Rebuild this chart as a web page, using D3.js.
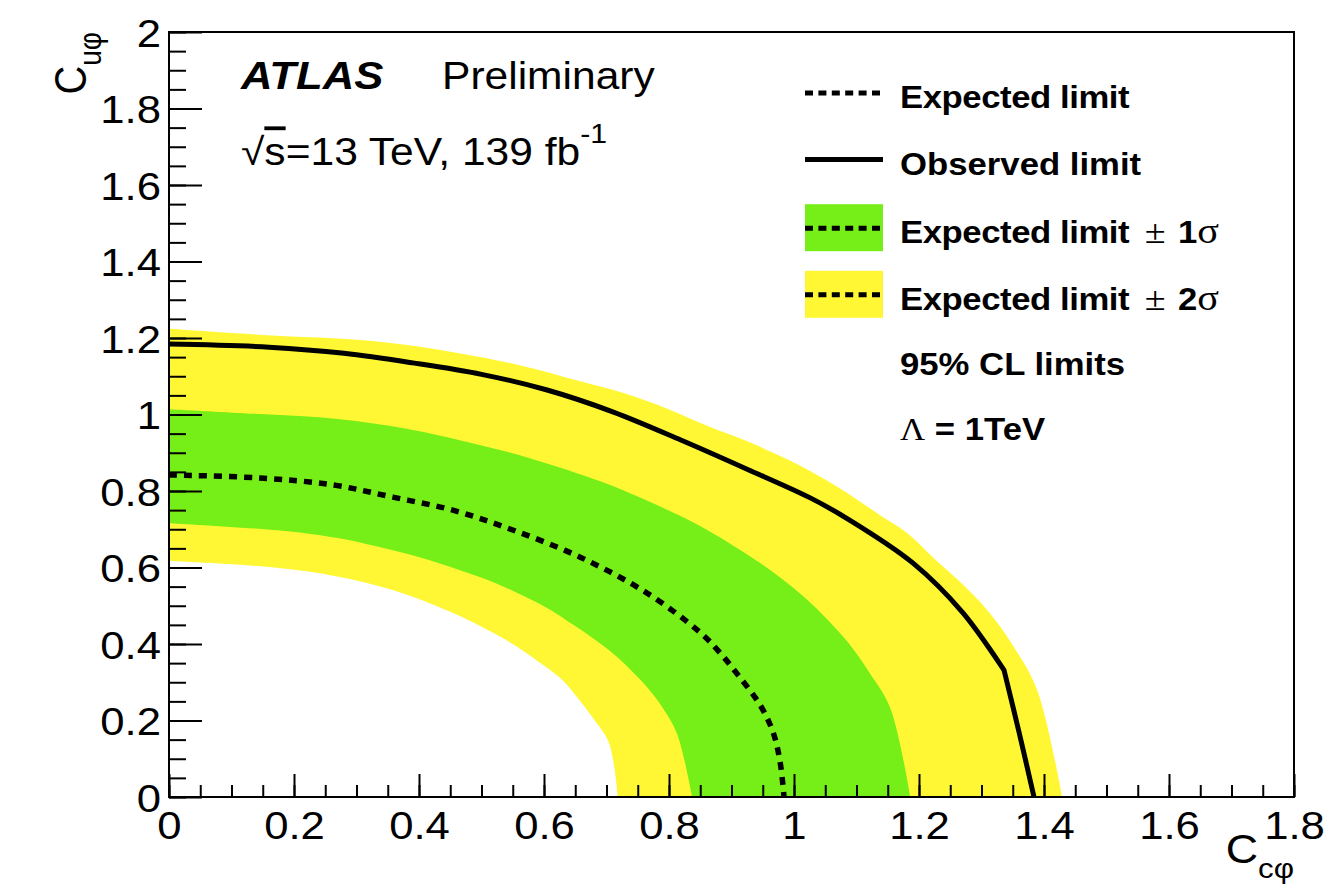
<!DOCTYPE html>
<html>
<head>
<meta charset="utf-8">
<script src="https://cdn.jsdelivr.net/npm/d3@7.9.0/dist/d3.min.js"></script>
<style>
  html, body { margin: 0; padding: 0; background: #fff; }
  svg { display: block; }
  text { font-family: "Liberation Sans", Arial, sans-serif; fill: #000; }
</style>
</head>
<body>
<svg id="chart" width="1332" height="893"></svg>
<script>
// contours in the (C_cphi, C_uphi) plane
const observed = [
  [0, 1.184], [0.16, 1.176], [0.28, 1.16], [0.39, 1.135], [0.5, 1.105],
  [0.605, 1.064], [0.71, 1.007], [0.818, 0.934], [0.925, 0.857], [1.026, 0.782],
  [1.085, 0.728], [1.19, 0.612], [1.27, 0.482], [1.336, 0.332],
];
const observedTail = [[1.336, 0.332], [1.36, 0.17], [1.384, 0]];
const expected = [
  [0, 0.842], [0.146, 0.834], [0.262, 0.816], [0.358, 0.784], [0.454, 0.75],
  [0.55, 0.698], [0.658, 0.627], [0.765, 0.533], [0.85, 0.43], [0.88, 0.38],
  [0.91, 0.32], [0.946, 0.24], [0.967, 0.167], [0.978, 0.089], [0.984, 0],
];
const plus1 = [
  [0, 1.014], [0.146, 1.001], [0.27, 0.988], [0.382, 0.962], [0.47, 0.931],
  [0.542, 0.902], [0.606, 0.871], [0.666, 0.839], [0.718, 0.808], [0.77, 0.771],
  [0.815, 0.737], [0.861, 0.698], [0.901, 0.659], [0.941, 0.617], [0.981, 0.57],
  [1.018, 0.52], [1.053, 0.465], [1.087, 0.403], [1.12, 0.327], [1.154, 0.233],
  [1.186, 0],
];
const minus1 = [
  [0, 0.716], [0.19, 0.695], [0.27, 0.677], [0.33, 0.656], [0.382, 0.635],
  [0.427, 0.614], [0.469, 0.591], [0.506, 0.57], [0.541, 0.546], [0.574, 0.52],
  [0.605, 0.494], [0.635, 0.463], [0.662, 0.434], [0.691, 0.4], [0.717, 0.366],
  [0.742, 0.327], [0.766, 0.285], [0.79, 0.233], [0.813, 0.165], [0.837, 0],
];
const plus2 = [
  [0, 1.224], [0.15, 1.208], [0.326, 1.192], [0.462, 1.161], [0.566, 1.127],
  [0.655, 1.088], [0.731, 1.054], [0.802, 1.012], [0.866, 0.967], [0.925, 0.93],
  [0.985, 0.886], [1.037, 0.842], [1.085, 0.795], [1.133, 0.742], [1.181, 0.69],
  [1.222, 0.627], [1.266, 0.562], [1.309, 0.489], [1.35, 0.397], [1.389, 0.28],
  [1.429, 0],
];
const minus2 = [
  [0, 0.617], [0.146, 0.603], [0.258, 0.58], [0.358, 0.541], [0.45, 0.484],
  [0.5, 0.445], [0.55, 0.4], [0.59, 0.355], [0.626, 0.311], [0.653, 0.261],
  [0.678, 0.207], [0.704, 0.141], [0.718, 0],
];

const xTicks = [0, 0.2, 0.4, 0.6, 0.8, 1, 1.2, 1.4, 1.6, 1.8];
const yTicks = [0, 0.2, 0.4, 0.6, 0.8, 1, 1.2, 1.4, 1.6, 1.8, 2];

const legendItems = [
  { kind: 'dash', label: 'Expected limit' },
  { kind: 'solid', label: 'Observed limit' },
  { kind: 'green', label: 'Expected limit', sig: '1' },
  { kind: 'yellow', label: 'Expected limit', sig: '2' },
];

const GREEN = '#76ee17';
const YELLOW = '#fff734';
const SX = 1.12; // the picture is stretched horizontally

const svg = d3.select('#chart');
const x = d3.scaleLinear().domain([0, 1.8]).range([169, 1294]);
const y = d3.scaleLinear().domain([0, 2]).range([797, 32]);

const line = d3.line().x((d) => x(d[0])).y((d) => y(d[1])).curve(d3.curveCatmullRom.alpha(0.5));
const band = (outer, inner) =>
  line(outer) + 'L' + line(inner.slice().reverse()).slice(1) + 'Z';

svg.append('path').attr('d', band(plus2, minus2)).attr('fill', YELLOW);
svg.append('path').attr('d', band(plus1, minus1)).attr('fill', GREEN);

svg.append('path').attr('d', line(expected))
  .attr('fill', 'none').attr('stroke', '#000').attr('stroke-width', 5.5)
  .attr('stroke-dasharray', '8 7');
svg.append('path').attr('d', line(observed) + 'L' + line(observedTail).slice(1))
  .attr('fill', 'none').attr('stroke', '#000').attr('stroke-width', 5)
  .attr('stroke-linejoin', 'round');

// axes, ticks pointing inward
const fmt = (d) => String(+d.toFixed(1));
const minorX = d3.range(0, 37).map((i) => i * 0.05);
const minorY = d3.range(0, 41).map((i) => i * 0.05);

const xAxisMinor = svg.append('g').attr('transform', 'translate(0,797)')
  .call(d3.axisBottom(x).tickValues(minorX).tickSize(-12).tickFormat(''));
const xAxis = svg.append('g').attr('transform', 'translate(0,797)')
  .call(d3.axisBottom(x).tickValues(xTicks).tickSize(-23).tickPadding(14).tickFormat(fmt));
const yAxisMinor = svg.append('g').attr('transform', 'translate(169,0)')
  .call(d3.axisLeft(y).tickValues(minorY).tickSize(-17).tickFormat(''));
const yAxis = svg.append('g').attr('transform', 'translate(169,0)')
  .call(d3.axisLeft(y).tickValues(yTicks).tickSize(-33).tickPadding(8).tickFormat(fmt));

[xAxisMinor, xAxis, yAxisMinor, yAxis].forEach((g) => {
  g.select('.domain').remove();
  g.selectAll('line').attr('stroke', '#000').attr('stroke-width', 2);
  g.selectAll('text').attr('font-size', 39).attr('font-family', '"Liberation Sans", Arial, sans-serif');
});
xAxis.selectAll('text').attr('transform', `scale(${SX},1)`);
yAxis.selectAll('text').attr('x', -8 / SX).attr('dy', null).attr('y', 14)
  .attr('transform', `scale(${SX},1)`);

svg.append('rect').attr('x', 169).attr('y', 32)
  .attr('width', 1294 - 169).attr('height', 797 - 32)
  .attr('fill', 'none').attr('stroke', '#000').attr('stroke-width', 2);

// axis titles
const xt = svg.append('text').attr('transform', `translate(1294,863) scale(${SX},1)`)
  .attr('text-anchor', 'end').attr('font-size', 40);
xt.append('tspan').text('C');
xt.append('tspan').attr('font-size', 28).attr('dy', 15).text('cφ');

const yt = svg.append('text').attr('transform', `translate(86,32) scale(${SX},1) rotate(-90)`)
  .attr('text-anchor', 'end').attr('font-size', 40);
yt.append('tspan').text('C');
yt.append('tspan').attr('font-size', 28).attr('dy', 13).text('uφ');

// ATLAS label
svg.append('text').attr('transform', `translate(241,89) scale(${SX},1)`)
  .attr('font-size', 39).attr('font-weight', 'bold').attr('font-style', 'italic')
  .text('ATLAS');
svg.append('text').attr('transform', `translate(442,89) scale(${SX},1)`)
  .attr('font-size', 38).text('Preliminary');

const lumi = svg.append('text').attr('transform', `translate(241,165) scale(${SX},1)`)
  .attr('font-size', 38);
lumi.append('tspan').text('√');
lumi.append('tspan').attr('text-decoration', 'overline').text('s');
lumi.append('tspan').text('=13 TeV, 139 fb');
lumi.append('tspan').attr('font-size', 27).attr('dy', -22).text('-1');

// legend
const lx0 = 805, lx1 = 883, rowH = 66.6, row0 = 93;
const symFont = '"Liberation Serif", serif';
legendItems.forEach((item, i) => {
  const cy = row0 + i * rowH + (i >= 2 ? 2 : 0);
  if (item.kind === 'green' || item.kind === 'yellow') {
    svg.append('rect').attr('x', lx0).attr('y', cy - 24).attr('width', lx1 - lx0).attr('height', 47)
      .attr('fill', item.kind === 'green' ? GREEN : YELLOW);
  }
  svg.append('line').attr('x1', lx0).attr('x2', lx1).attr('y1', cy).attr('y2', cy)
    .attr('stroke', '#000').attr('stroke-width', 5)
    .attr('stroke-dasharray', item.kind === 'solid' ? null : '8 5.4');
  const t = svg.append('text').attr('transform', `translate(900,${cy + 15}) scale(${SX},1)`)
    .attr('font-size', 31).attr('font-weight', 'bold');
  t.append('tspan').attr('textLength', item.kind === 'solid' ? null : 205)
    .attr('lengthAdjust', 'spacing').text(item.label);
  if (item.sig) {
    t.append('tspan').attr('dx', 14).attr('font-weight', 'normal').attr('font-family', symFont)
      .attr('font-size', 34).text('±');
    t.append('tspan').attr('dx', 11).text(item.sig);
    t.append('tspan').attr('font-weight', 'normal').attr('font-family', symFont)
      .attr('font-size', 36).text('σ');
  }
});

svg.append('text').attr('transform', `translate(900,375) scale(${SX},1)`)
  .attr('font-size', 31).attr('font-weight', 'bold').text('95% CL limits');
const lam = svg.append('text').attr('transform', `translate(900,440) scale(${SX},1)`)
  .attr('font-size', 31).attr('font-weight', 'bold');
lam.append('tspan').attr('font-weight', 'normal').attr('font-family', symFont).text('Λ');
lam.append('tspan').text(' = 1TeV');
</script>
</body>
</html>
